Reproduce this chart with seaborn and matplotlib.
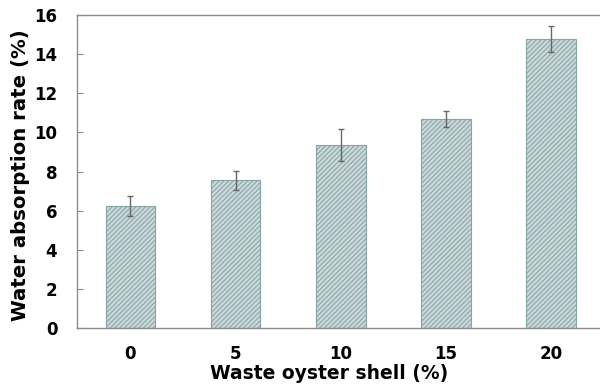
import matplotlib
matplotlib.use("Agg")
import matplotlib.pyplot as plt
import seaborn as sns
import pandas as pd

# Water absorption vs. oyster shell replacement ratio
shell_ratio = ["0", "5", "10", "15", "20"]
absorption = [6.22, 7.55, 9.36, 10.69, 14.78]
absorption_err = [0.51, 0.49, 0.82, 0.41, 0.67]
y_ticks = [0, 2, 4, 6, 8, 10, 12, 14, 16]

df = pd.DataFrame({"shell": shell_ratio, "rate": absorption})

sns.set_style("white")
plt.rcParams["font.family"] = ["DejaVu Sans"]
plt.rcParams["text.color"] = "black"
plt.rcParams["axes.labelcolor"] = "black"
plt.rcParams["xtick.color"] = "black"
plt.rcParams["ytick.color"] = "black"
plt.rcParams["hatch.color"] = "#86a3a6"
plt.rcParams["hatch.linewidth"] = 0.7

fig = plt.figure(figsize=(6.0, 3.86), dpi=100)
ax = fig.add_axes([0.128, 0.150, 0.880, 0.811])

sns.barplot(data=df, x="shell", y="rate", order=shell_ratio, errorbar=None,
            width=0.47, color="#c8d9db", edgecolor="#86a3a6",
            linewidth=0.8, hatch="///////", ax=ax)

ax.errorbar(x=range(len(shell_ratio)), y=absorption, yerr=absorption_err,
            fmt="none", ecolor="#666666", elinewidth=1.0, capsize=2.5,
            capthick=1.0)

ax.set_xlim(-0.51, 4.51)
ax.set_ylim(0, 16)
ax.set_yticks(y_ticks)

ax.set_xlabel("Waste oyster shell (%)", fontsize=13.5, fontweight="bold")
ax.set_ylabel("Water absorption rate (%)", fontsize=14.2, fontweight="bold")
ax.xaxis.set_label_coords(0.477, -0.115)
ax.yaxis.set_label_coords(-0.088, 0.49)

for lab in ax.get_xticklabels() + ax.get_yticklabels():
    lab.set_fontweight("bold")
    lab.set_fontsize(12)

ax.tick_params(axis="y", direction="in", length=4, width=0.8,
               color="#888888", pad=14, left=True)
ax.tick_params(axis="x", length=0, pad=12)

for side in ["left", "bottom", "top"]:
    ax.spines[side].set_visible(True)
    ax.spines[side].set_color("#8c8c8c")
    ax.spines[side].set_linewidth(1.0)
ax.spines["right"].set_visible(False)

fig.savefig("out.png", dpi=100)
